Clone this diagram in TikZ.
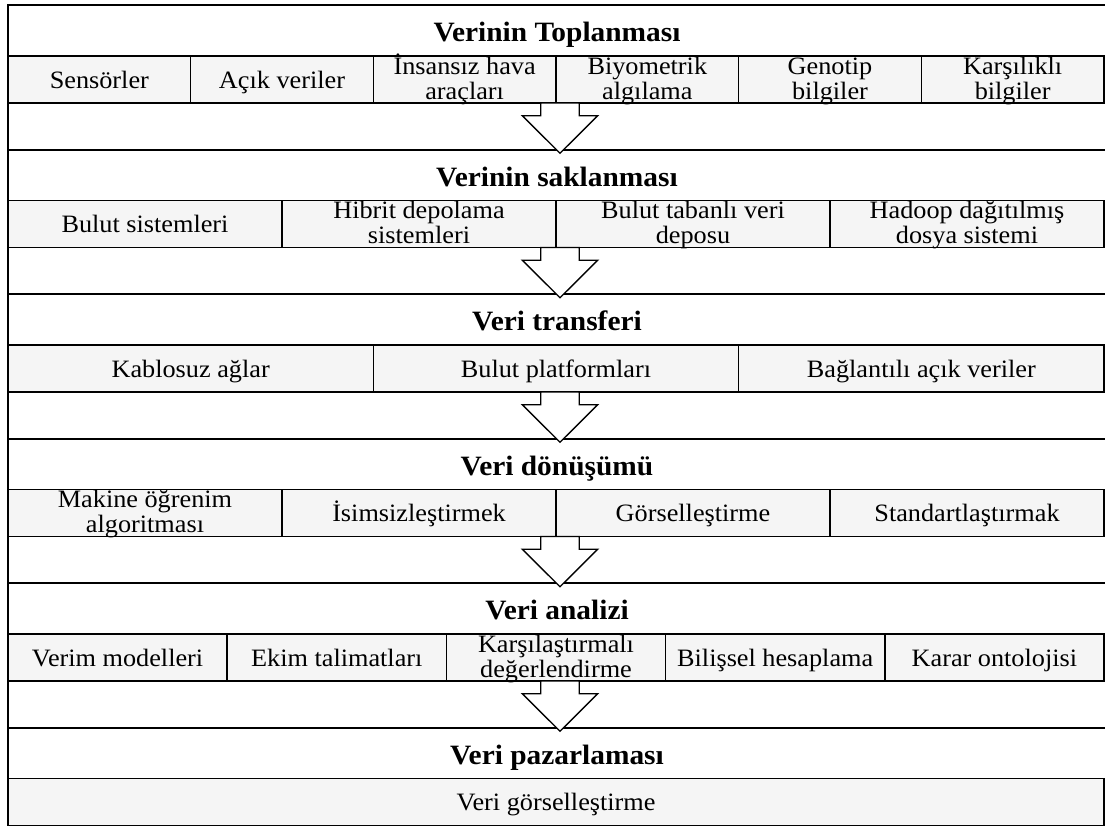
\documentclass[tikz,border=0pt]{standalone}
\usepackage{fontspec}
\setmainfont{Liberation Serif}[FakeStretch=1.05]
\newcommand\cellone[1]{\raisebox{-8.5pt}[0pt][0pt]{#1}}
\newcommand\celltwo[2]{\raisebox{5.25pt}[0pt][0pt]{\begin{tabular}[t]{@{}c@{}}#1\\#2\end{tabular}}}
\newcommand\cellrow[4]{%
  \pgfmathsetmacro\cw{1096/#2}%
  \foreach \txt [count=\i] in {#4} {%
    \pgfmathsetmacro\xx{8+(\i-1)*\cw}%
    \node[cellbox, minimum width=\cw pt] (#1-\i) at (\xx,#3) {\txt};}}
\newcommand\blockarrow[2]{%
  \draw[barrow] (#1) ++(-19.2,0) -- ++(0,12.7) -- ++(-18.5,0) -- (#2)
    -- ++(37.7,-37.6) -- ++(-18.5,0) -- ++(0,-12.7) -- cycle;}
\begin{document}
\begin{tikzpicture}[x=1pt,y=-1pt,
  hdr/.style={draw, line width=2pt, anchor=north west, minimum width=1098pt,
    minimum height=51pt, inner sep=0pt, outer sep=0pt, text height=23pt, text depth=0.6pt,
    font=\fontsize{28}{30}\selectfont\bfseries},
  cellbox/.style={draw, line width=1.6pt, fill=black!4, anchor=north west,
    minimum height=47pt, inner sep=0pt, outer sep=0pt,
    font=\fontsize{25}{25}\selectfont},
  frame/.style={line width=2pt},
  barrow/.style={draw, fill=white, line width=1.3pt, line join=miter}]
\useasboundingbox (0,0) rectangle (1105,827);
\fill[white] (0,0) rectangle (1105,827);
% headers
\node[hdr] (h1) at (8,5) {Verinin Toplanması};
\node[hdr] (h2) at (8,149.5) {Verinin saklanması};
\node[hdr] (h3) at (8,294) {Veri transferi};
\node[hdr] (h4) at (8,438.5) {Veri dönüşümü};
\node[hdr] (h5) at (8,583) {Veri analizi};
\node[hdr] (h6) at (8,727.5) {Veri pazarlaması};
% cell rows
\cellrow{c1}{6}{56}{{\cellone{Sensörler}},{\cellone{Açık veriler}},{\celltwo{İnsansız hava}{araçları}},{\celltwo{Biyometrik}{algılama}},{\celltwo{Genotip}{bilgiler}},{\celltwo{Karşılıklı}{bilgiler}}}
\cellrow{c2}{4}{200.5}{{\cellone{Bulut sistemleri}},{\celltwo{Hibrit depolama}{sistemleri}},{\celltwo{Bulut tabanlı veri}{deposu}},{\celltwo{Hadoop dağıtılmış}{dosya sistemi}}}
\cellrow{c3}{3}{345}{{\cellone{Kablosuz ağlar}},{\cellone{Bulut platformları}},{\cellone{Bağlantılı açık veriler}}}
\cellrow{c4}{4}{489.5}{{\celltwo{Makine öğrenim}{algoritması}},{\cellone{İsimsizleştirmek}},{\cellone{Görselleştirme}},{\cellone{Standartlaştırmak}}}
\cellrow{c5}{5}{634}{{\cellone{Verim modelleri}},{\cellone{Ekim talimatları}},{\celltwo{Karşılaştırmalı}{değerlendirme}},{\cellone{Bilişsel hesaplama}},{\cellone{Karar ontolojisi}}}
\cellrow{c6}{1}{778.5}{{\cellone{Veri görselleştirme}}}
% left frame line
\draw[frame] (h1.north west) -- (c6-1.south west);
% arrows
\coordinate (s1) at (560,103);   \coordinate (t1) at (560,153.3);
\coordinate (s2) at (560,247.5); \coordinate (t2) at (560,297.8);
\coordinate (s3) at (560,392);   \coordinate (t3) at (560,442.3);
\coordinate (s4) at (560,536.5); \coordinate (t4) at (560,586.8);
\coordinate (s5) at (560,681);   \coordinate (t5) at (560,731.3);
\blockarrow{s1}{t1}
\blockarrow{s2}{t2}
\blockarrow{s3}{t3}
\blockarrow{s4}{t4}
\blockarrow{s5}{t5}
\end{tikzpicture}
\end{document}
